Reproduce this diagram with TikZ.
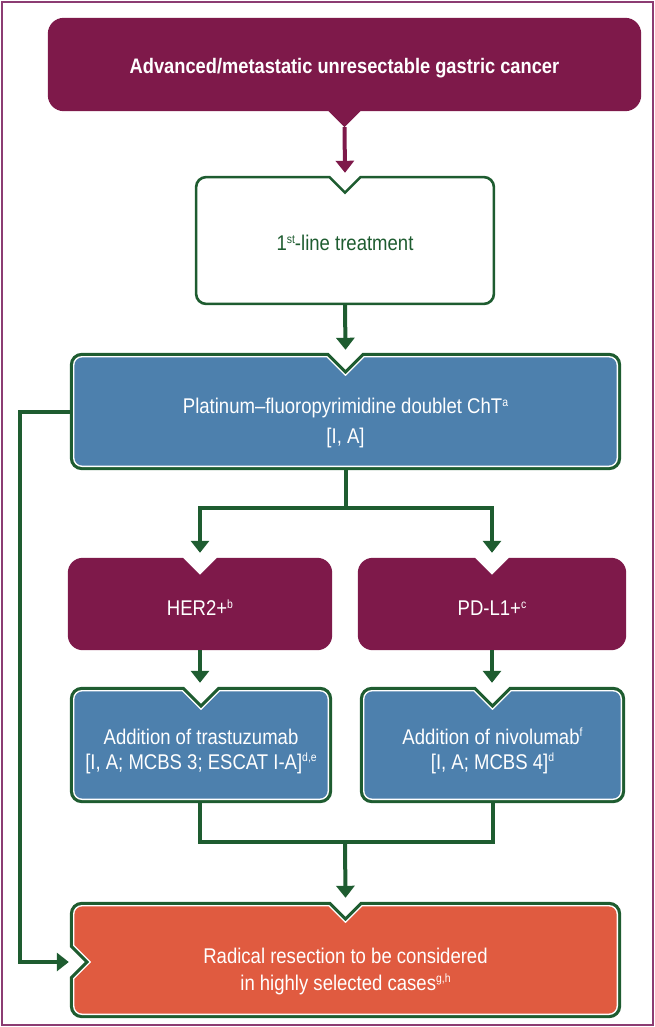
\documentclass[tikz,border=0pt]{standalone}
\usepackage{fontspec}
\setmainfont[FakeStretch=0.87]{Liberation Sans}
\usetikzlibrary{arrows.meta,calc,backgrounds}
\definecolor{cpurple}{RGB}{126,25,74}
\definecolor{cgreen}{RGB}{30,92,48}
\definecolor{cblue}{RGB}{77,128,173}
\definecolor{corange}{RGB}{224,91,64}
\definecolor{cframe}{RGB}{140,60,115}

% notched box: options, node, inset, notch half width, radius
\newcommand\nbox[5]{%
 \path[#1] let \p1=(#2.north west), \p2=(#2.south east), \p3=(#2.north) in
  (\x3+#4+0.414*#3,\y1-#3) -- (\x2-#3-#5,\y1-#3)
  arc[start angle=90,end angle=0,radius=#5] -- (\x2-#3,\y2+#3+#5)
  arc[start angle=0,end angle=-90,radius=#5] -- (\x1+#3+#5,\y2+#3)
  arc[start angle=-90,end angle=-180,radius=#5] -- (\x1+#3,\y1-#3-#5)
  arc[start angle=180,end angle=90,radius=#5] -- (\x3-#4-0.414*#3,\y1-#3)
  -- (\x3,\y1-#4-1.414*#3) -- cycle;}
% box with top notch and left notch
\newcommand\rbox[5]{%
 \path[#1] let \p1=(#2.north west), \p2=(#2.south east), \p3=(#2.north), \p4=(#2.west) in
  (\x3+#4+0.414*#3,\y1-#3) -- (\x2-#3-#5,\y1-#3)
  arc[start angle=90,end angle=0,radius=#5] -- (\x2-#3,\y2+#3+#5)
  arc[start angle=0,end angle=-90,radius=#5] -- (\x1+#3+#5,\y2+#3)
  arc[start angle=-90,end angle=-180,radius=#5]
  -- (\x1+#3,\y4-2-#4-0.414*#3) -- (\x1+#4+1.414*#3,\y4-2) -- (\x1+#3,\y4-2+#4+0.414*#3)
  -- (\x1+#3,\y1-#3-#5)
  arc[start angle=180,end angle=90,radius=#5] -- (\x3-#4-0.414*#3,\y1-#3)
  -- (\x3,\y1-#4-1.414*#3) -- cycle;}
\newcommand\low[2]{\raisebox{#1}[0pt][0pt]{\begin{tabular}{@{}c@{}}#2\end{tabular}}}
\newcommand\sps[1]{\raisebox{7.5pt}{\fontsize{12}{12}\selectfont #1}}

\begin{document}
\begin{tikzpicture}[x=1pt,y=-1pt,
  boxnode/.style 2 args={minimum width=#1, minimum height=#2, inner sep=0pt,
     align=center, text=white, font=\fontsize{21.3}{25}\selectfont},
  gline/.style={draw=cgreen, line width=4pt},
  garrow/.style={gline, -{Triangle[width=18pt,length=12pt]}},
  parrow/.style={draw=cpurple, line width=4pt, -{Triangle[width=18pt,length=12pt]}}]
\useasboundingbox (0,0) rectangle (655,1027);
\draw[cframe, line width=1.8pt] (2,2) rectangle (653,1025);

% nodes (text)
\node[boxnode={593pt}{93pt}, font=\fontsize{21}{25}\selectfont\bfseries] (top) at (344.5,64.5)
  {\low{-9pt}{Advanced/metastatic unresectable gastric cancer}};
\node[boxnode={300pt}{129pt}, text=cgreen] (first) at (345,240.5)
  {\low{-10.5pt}{1\sps{st}-line treatment}};
\node[boxnode={551pt}{117pt}] (plat) at (345.5,411.5)
  {\low{-17.5pt}{Platinum–fluoropyrimidine doublet ChT\sps{a}\\[5pt] [I, A]}};
\node[boxnode={264pt}{92pt}] (her) at (200,604) {\low{-12pt}{HER2+\sps{b}}};
\node[boxnode={268pt}{92pt}] (pdl) at (492,604) {\low{-12pt}{PD-L1+\sps{c}}};
\node[boxnode={262pt}{116pt}] (addh) at (201,745)
  {\low{-12pt}{Addition of trastuzumab\\{}[I, A; MCBS 3; ESCAT I-A]\sps{d,e}}};
\node[boxnode={265pt}{116pt}] (addp) at (492.5,745)
  {\low{-12pt}{Addition of nivolumab\sps{f}\\{}[I, A; MCBS 4]\sps{d}}};
\node[boxnode={551pt}{116pt}] (res) at (345.5,960)
  {\low{-17pt}{Radical resection to be considered\\[2pt] in highly selected cases\sps{g,h}}};
\coordinate (merge) at (345,842);

% shapes
\begin{scope}[on background layer]
\fill[cpurple] let \p1=(top.north west), \p2=(top.south east), \p3=(top.south) in
  (\x3-16,\y2) -- (\x1+16,\y2) arc[start angle=-90,end angle=-180,radius=16pt]
  -- (\x1,\y1-16) arc[start angle=180,end angle=90,radius=16pt]
  -- (\x2-16,\y1) arc[start angle=90,end angle=0,radius=16pt]
  -- (\x2,\y2+16) arc[start angle=0,end angle=-90,radius=16pt]
  -- (\x3+16,\y2) -- (\x3,\y2-16) -- cycle;
\nbox{draw=cgreen, line width=2.6pt, fill=white}{first}{1.3}{15}{10pt}
\nbox{fill=cgreen}{plat}{0}{17}{12pt}
\nbox{fill=white}{plat}{3.2}{17}{9pt}
\nbox{fill=cblue}{plat}{4.6}{17}{8pt}
\nbox{fill=cpurple}{her}{0}{17}{15pt}
\nbox{fill=cpurple}{pdl}{0}{17}{15pt}
\nbox{fill=cgreen}{addh}{0}{17}{12pt}
\nbox{fill=white}{addh}{3.2}{17}{9pt}
\nbox{fill=cblue}{addh}{4.6}{17}{8pt}
\nbox{fill=cgreen}{addp}{0}{17}{12pt}
\nbox{fill=white}{addp}{3.2}{17}{9pt}
\nbox{fill=cblue}{addp}{4.6}{17}{8pt}
\rbox{fill=cgreen}{res}{0}{15}{12pt}
\rbox{fill=white}{res}{3.2}{15}{9pt}
\rbox{fill=corange}{res}{4.6}{15}{8pt}
\end{scope}

% connectors
\draw[parrow] ([yshift=-16pt]top.south) -- ([yshift=3pt]first.north);
\draw[garrow] (first.south) -- ([yshift=3pt]plat.north);
\draw[garrow] (plat.south) -- ++(0pt,-38pt) -| ([yshift=5pt]her.north);
\draw[garrow] (plat.south) -- ++(0pt,-38pt) -| ([yshift=5pt]pdl.north);
\draw[garrow] (her.south) -- ([yshift=4pt]addh.north west -| her.south);
\draw[garrow] (pdl.south) -- ([yshift=4pt]addp.north west -| pdl.south);
\draw[gline] ([xshift=-1pt]addh.south) |- (merge) -| (addp.south);
\draw[garrow] (merge) -- ([yshift=4pt]res.north);
\draw[garrow] (plat.west) -- ++(-50pt,0pt) |- ([xshift=-1pt,yshift=-2pt]res.west);
\end{tikzpicture}
\end{document}
